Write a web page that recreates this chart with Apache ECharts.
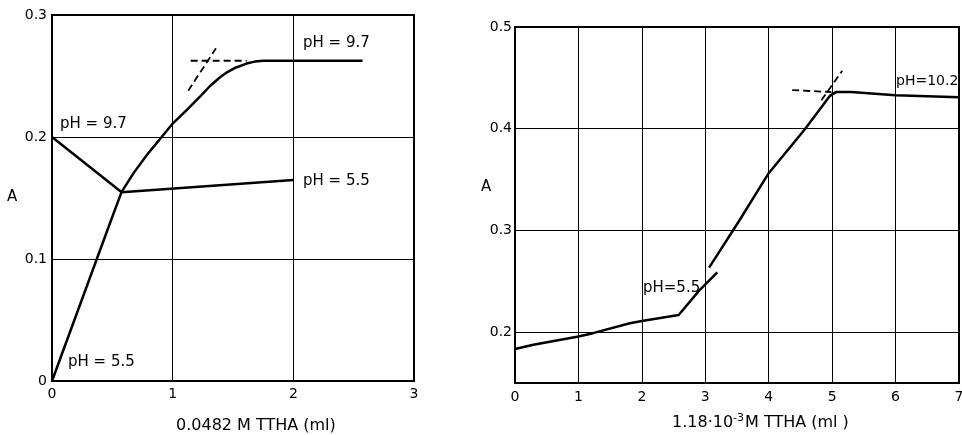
<!DOCTYPE html>
<html>
<head>
<meta charset="utf-8">
<script src="https://cdn.jsdelivr.net/npm/echarts@6/dist/echarts.min.js"></script>
<style>html,body{margin:0;padding:0;background:#fff}#c{width:962px;height:435px}</style>
</head>
<body>
<div id="c"></div>
<script>
// ---- Left panel data (0.0482 M TTHA, ml vs A) ----
const leftXTicks = [0, 1, 2, 3];
const leftYTicks = [0, 0.1, 0.2, 0.3];
const leftRising = [[0,0],[0.49,0.132],[0.577,0.155],[0.68,0.171],[0.8,0.187],[0.909,0.2],[1,0.211],[1.12,0.2225],[1.226,0.233],[1.31,0.2418],[1.39,0.2488],[1.45,0.253],[1.52,0.2568],[1.613,0.2602],[1.68,0.2618],[1.75,0.2625],[2.574,0.2625]];
const leftFalling = [[0,0.2],[0.577,0.1547],[2,0.1648]];
const leftDashH = [[1.149,0.2625],[1.613,0.2625]];
const leftDashD = [[1.129,0.238],[1.359,0.2727]];

// ---- Right panel data (1.18e-3 M TTHA, ml vs A) ----
const rightXTicks = [0, 1, 2, 3, 4, 5, 6, 7];
const rightYTicks = [0.2, 0.3, 0.4, 0.5];
const rightLower = [[0,0.1834],[0.29,0.1876],[1,0.1957],[1.23,0.199],[1.81,0.2088],[2,0.211],[2.58,0.2168],[2.91,0.2413],[3.19,0.2587]];
const rightUpper = [[3.06,0.2635],[3.53,0.309],[3.99,0.3554],[4.57,0.3994],[4.96,0.432],[5.06,0.436],[5.3,0.436],[6,0.433],[7,0.431]];
const rightDashH = [[4.37,0.438],[4.99,0.436]];
const rightDashD = [[4.83,0.428],[5.16,0.457]];

const FONT = 'DejaVu Sans';
const chart = echarts.init(document.getElementById('c'), null, {renderer: 'canvas'});

function solid(xi, data) {
  return {type: 'line', xAxisIndex: xi, yAxisIndex: xi, data: data, symbol: 'none', silent: true,
    lineStyle: {color: '#000', width: 2.5, join: 'round'}, z: 5};
}
function dashed(xi, data) {
  return {type: 'line', xAxisIndex: xi, yAxisIndex: xi, data: data, symbol: 'none', silent: true,
    lineStyle: {color: '#000', width: 1.8, type: [7, 4]}, z: 5};
}
const lbl = {color: '#000', fontFamily: FONT, fontSize: 14};
const T = 'normal 15px ' + FONT;
const T16 = 'normal 16px ' + FONT;

const option = {
  animation: false,
  backgroundColor: '#fff',
  grid: [
    {left: 52, top: 15, right: 548, bottom: 54, show: true, borderColor: '#000', borderWidth: 2, backgroundColor: 'transparent', containLabel: false, outerBoundsMode: 'none'},
    {left: 515, top: 27, right: 3, bottom: 52, show: true, borderColor: '#000', borderWidth: 2, backgroundColor: 'transparent', containLabel: false, outerBoundsMode: 'none'}
  ],
  xAxis: [
    {type: 'value', gridIndex: 0, min: leftXTicks[0], max: leftXTicks[leftXTicks.length-1], interval: 1,
      axisLine: {show: false}, axisTick: {show: false},
      axisLabel: Object.assign({margin: 6}, lbl),
      splitLine: {show: true, lineStyle: {color: '#000', width: 1}}},
    {type: 'value', gridIndex: 1, min: rightXTicks[0], max: rightXTicks[rightXTicks.length-1], interval: 1,
      axisLine: {show: false}, axisTick: {show: false},
      axisLabel: Object.assign({margin: 7}, lbl),
      splitLine: {show: true, lineStyle: {color: '#000', width: 1}}}
  ],
  yAxis: [
    {type: 'value', gridIndex: 0, min: leftYTicks[0], max: leftYTicks[leftYTicks.length-1], interval: 0.1,
      axisLine: {show: false}, axisTick: {show: false},
      axisLabel: Object.assign({margin: 5, formatter: v => v === 0 ? '0' : v.toFixed(1)}, lbl),
      splitLine: {show: true, lineStyle: {color: '#000', width: 1}}},
    {type: 'value', gridIndex: 1, min: 0.15, max: 0.5, interval: 0.05,
      axisLine: {show: false}, axisTick: {show: false},
      axisLabel: Object.assign({margin: 3, showMinLabel: false, formatter: v => {
        const r = Math.round(v * 10) / 10;
        return (Math.abs(v - r) < 1e-6 && rightYTicks.some(t => Math.abs(t - r) < 1e-6)) ? r.toFixed(1) : '';
      }}, lbl),
      splitLine: {show: false}}
  ],
  series: [
    solid(0, leftRising),
    solid(0, leftFalling),
    dashed(0, leftDashH),
    dashed(0, leftDashD),
    solid(1, rightLower),
    solid(1, rightUpper),
    dashed(1, rightDashH),
    dashed(1, rightDashD),
    {type: 'line', xAxisIndex: 1, yAxisIndex: 1, data: [], silent: true,
      markLine: {silent: true, symbol: 'none', label: {show: false},
        lineStyle: {color: '#000', width: 1, type: 'solid'},
        data: rightYTicks.slice(0, -1).map(t => ({yAxis: t}))}}
  ],
  graphic: [
    {type: 'text', left: 60, top: 117, style: {text: 'pH = 9.7', fill: '#000', font: T}},
    {type: 'text', left: 303, top: 36, style: {text: 'pH = 9.7', fill: '#000', font: T}},
    {type: 'text', left: 303, top: 174, style: {text: 'pH = 5.5', fill: '#000', font: T}},
    {type: 'text', left: 68, top: 355, style: {text: 'pH = 5.5', fill: '#000', font: T}},
    {type: 'text', left: 7, top: 190, style: {text: 'A', fill: '#000', font: T}},
    {type: 'text', left: 176, top: 418, style: {text: '0.0482 M TTHA (ml)', fill: '#000', font: T16}},
    {type: 'text', left: 896, top: 74, style: {text: 'pH=10.2', fill: '#000', font: 'normal 14px ' + FONT}},
    {type: 'text', left: 643, top: 281, style: {text: 'pH=5.5', fill: '#000', font: T}},
    {type: 'text', left: 481, top: 180, style: {text: 'A', fill: '#000', font: T}},
    {type: 'text', left: 672, top: 413, style: {
      text: '1.18·10{sup|-3}M TTHA (ml )', fill: '#000', font: T16,
      rich: {sup: {fontSize: 11, fontFamily: FONT, fill: '#000', verticalAlign: 'top', padding: [0, 1, 8, 0]}}}}
  ]
};
chart.setOption(option);
</script>
</body>
</html>
